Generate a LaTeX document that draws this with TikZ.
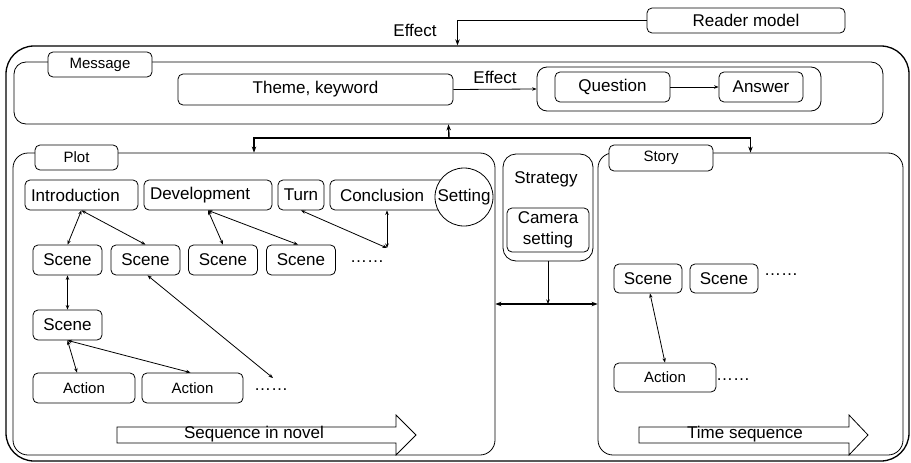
\documentclass[tikz,border=0pt]{standalone}
\usepackage{fontspec}
\setmainfont{Liberation Sans}
\usetikzlibrary{arrows.meta}

\tikzset{
  big/.style={font=\fontsize{17}{21}\selectfont},
  small/.style={font=\fontsize{15}{18}\selectfont},
  box/.style={draw, line width=0.8pt, rounded corners=5pt, fill=white, inner sep=0pt, big},
  leftbox/.style={box, align=left, inner xsep=6pt},
  tag/.style={box, small},
  frame/.style={draw, line width=0.8pt, inner sep=0pt},
  txt/.style={inner sep=0pt, big},
  link/.style={line width=0.8pt, {Stealth[length=4.5pt,width=3.5pt]}-{Stealth[length=4.5pt,width=3.5pt]}},
  onelink/.style={line width=0.8pt, -{Stealth[length=4.5pt,width=3.5pt]}},
  trunk/.style={line width=1.4pt, -{Stealth[length=6pt,width=4.5pt]}},
  biglink/.style={line width=1.4pt, {Stealth[length=6pt,width=4.5pt]}-{Stealth[length=6pt,width=4.5pt]}},
  flow/.style={draw, line width=0.8pt, fill=white},
}

\begin{document}
\begin{tikzpicture}[x=1pt, y=-1pt]
\useasboundingbox (0,0) rectangle (911,463);

% outer frame
\node[frame, line width=1.3pt, rounded corners=28pt, minimum width=903, minimum height=415] (outer) at (457.5,253.5) {};

% reader model and its effect
\node[box, minimum width=198, minimum height=25] (reader) at (746,20.5) {Reader model};
\node[txt] (effect1) at (415,30) {Effect};
\draw[trunk] (reader.west) -| (outer.north);

% message block
\node[frame, rounded corners=12pt, minimum width=869, minimum height=62] (message) at (448.5,93) {};
\node[tag, minimum width=104, minimum height=25] (msglbl) at (100,64.5) {Message};
\node[box, minimum width=275, minimum height=31] (theme) at (315.5,89.5) {Theme,\ keyword};
\node[frame, rounded corners=10pt, minimum width=284, minimum height=44] (qa) at (679,89) {};
\node[box, minimum width=115, minimum height=30] (question) at (612.5,87) {Question};
\node[box, minimum width=84, minimum height=30] (answer) at (761,87) {Answer};
\draw[onelink] (theme.east) -- node[txt, above=5pt] (effect2) {Effect} (qa.west);
\draw[onelink] (question) -- (answer);

% plot and story frames
\node[frame, rounded corners=15pt, minimum width=482, minimum height=302] (plot) at (254,304) {};
\node[tag, minimum width=83, minimum height=25] (plotlbl) at (76.5,157.5) {Plot};
\node[frame, rounded corners=15pt, minimum width=305, minimum height=302] (story) at (750.5,304) {};
\node[tag, minimum width=104, minimum height=26] (storylbl) at (661,158) {Story};

% message <-> plot / story
\coordinate (hub) at (449,138);
\draw[trunk] (hub) -- (message.south);
\draw[trunk] (hub) -| (plot.north);
\draw[trunk] (hub) -| (story.north);

% plot structure
\node[leftbox, minimum height=30, text width=101] (intro) at (81.5,195) {Introduction};
\node[leftbox, minimum height=30, text width=116] (dev) at (208,195) {Development};
\node[box, minimum width=46, minimum height=30] (turn) at (301,195) {Turn};
\node[box, minimum height=30, text width=110, inner xsep=10pt, align=left] (concl) at (395,195) {Conclusion};
\node[draw, line width=0.8pt, circle, fill=white, minimum size=58, inner sep=0pt, big] (setting) at (464,197) {Setting};

\node[box, minimum width=69, minimum height=30] (s1) at (67.5,260) {Scene};
\node[box, minimum width=69, minimum height=30] (s2) at (145.5,260) {Scene};
\node[box, minimum width=69, minimum height=30] (s3) at (223,260) {Scene};
\node[box, minimum width=69, minimum height=30] (s4) at (301,260) {Scene};
\node[txt] (dots1) at (367,262) {……};

\node[box, minimum width=69, minimum height=30] (s5) at (67.5,325) {Scene};
\node[box, small, minimum width=102, minimum height=30] (a1) at (84,388) {Action};
\node[box, small, minimum width=101, minimum height=30] (a2) at (192.5,388) {Action};
\node[txt] (dots2) at (271,390) {……};

\coordinate (cj) at (387,248);
\coordinate (s2end) at (273,378);

\draw[link] (intro.south) -- (s1.north);
\draw[link] (intro.south) -- (s2.north);
\draw[link] (dev.south) -- (s3.north);
\draw[link] (dev.south) -- ([xshift=-3]s4.north);
\draw[link] (turn.south) -- (cj);
\draw[link] (cj |- concl.south) -- (cj);
\draw[link] (s1.south) -- (s5.north);
\draw[link] ([xshift=2]s2.south) -- (s2end);
\draw[link] (s5.south) -- ([xshift=-7]a1.north);
\draw[link] (s5.south) -- ([xshift=-2]a2.north);

% sequence arrow in the plot
\draw[flow] (117,427) -- (396,427) -- (396,415) -- (416,435) -- (396,455) -- (396,443) -- (117,443) -- cycle;
\node[txt] (seqnovel) at (254,434) {Sequence in novel};

% strategy
\node[frame, rounded corners=13pt, minimum width=90, minimum height=107] (strategy) at (548,207.5) {};
\node[txt] (stratlbl) at (546,179) {Strategy};
\node[box, minimum width=82, minimum height=44, align=center] (camera) at (548,230) {Camera\\setting};
\draw[onelink] (strategy.south) -- (strategy.south |- plot.east);
\draw[biglink] (plot.east) -- (story.west);

% story structure
\node[box, minimum width=68, minimum height=29] (sa) at (648,278.5) {Scene};
\node[box, minimum width=68, minimum height=29] (sb) at (724,278.5) {Scene};
\node[txt] (dots3) at (781,275) {……};
\node[box, small, minimum width=102, minimum height=29] (sact) at (665,377.5) {Action};
\node[txt] (dots4) at (733,380) {……};
\draw[link] ([xshift=2]sa.south) -- (sact.north);

% time arrow in the story
\draw[flow] (639,427) -- (849,427) -- (849,415) -- (868,435) -- (849,455) -- (849,443) -- (639,443) -- cycle;
\node[txt] (timeseq) at (745,434) {Time sequence};
\end{tikzpicture}
\end{document}
